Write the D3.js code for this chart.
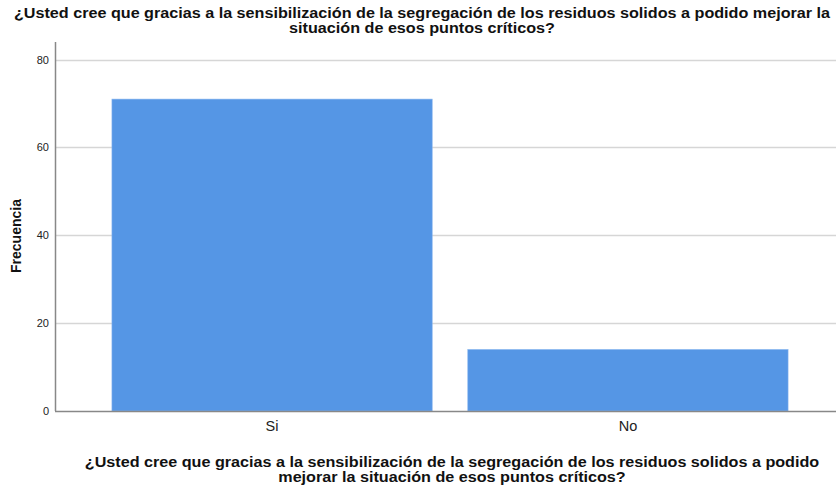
<!DOCTYPE html>
<html>
<head>
<meta charset="utf-8">
<script src="https://cdn.jsdelivr.net/npm/d3@7"></script>
<style>
  body { margin: 0; background: #fff; }
  svg { font-family: "Liberation Sans", Arial, sans-serif; }
</style>
</head>
<body>
<div id="chart"></div>
<script>
const categories = ["Si", "No"];
const frecuencias = [71, 14];
const yTicks = [0, 20, 40, 60, 80];
const titleLines = [
  "¿Usted cree que gracias a la sensibilización de la segregación de los residuos solidos a podido mejorar la",
  "situación de esos puntos críticos?"
];
const xTitleLines = [
  "¿Usted cree que gracias a la sensibilización de la segregación de los residuos solidos a podido",
  "mejorar la situación de esos puntos críticos?"
];
const yTitle = "Frecuencia";

const W = 836, H = 488;
const margin = { top: 42, right: 0, bottom: 77, left: 55 };
const stretch = 1.154; // reference font renders wider than Liberation Sans

const svg = d3.select("#chart").append("svg")
  .attr("width", W)
  .attr("height", H);

const x = d3.scaleBand()
  .domain(categories)
  .range([margin.left, 845])
  .paddingInner(0.1)
  .paddingOuter(0.16);

const y = d3.scaleLinear()
  .domain([0, 84])
  .range([H - margin.bottom, margin.top]);

// grid
svg.append("g")
  .selectAll("line")
  .data(yTicks.filter(d => d > 0))
  .join("line")
    .attr("x1", margin.left)
    .attr("x2", W)
    .attr("y1", d => Math.round(y(d)) + 0.5)
    .attr("y2", d => Math.round(y(d)) + 0.5)
    .attr("stroke", "#d6d6d6")
    .attr("stroke-width", 1.5);

// bars
svg.append("g")
  .selectAll("rect")
  .data(categories.map((c, i) => ({ cat: c, val: frecuencias[i] })))
  .join("rect")
    .attr("x", d => x(d.cat))
    .attr("width", x.bandwidth())
    .attr("y", d => y(d.val))
    .attr("height", d => y(0) - y(d.val))
    .attr("fill", "#5596e5")
    .attr("stroke", "#86b4ee")
    .attr("stroke-width", 0.6);

// y axis
const yAxis = svg.append("g")
  .attr("transform", `translate(${margin.left},0)`)
  .call(d3.axisLeft(y).tickValues(yTicks).tickSize(0).tickPadding(6));
yAxis.select(".domain").remove();
yAxis.selectAll("text").attr("font-size", 11).attr("fill", "#222");
svg.append("line")
  .attr("x1", margin.left + 0.5).attr("x2", margin.left + 0.5)
  .attr("y1", margin.top).attr("y2", y(0))
  .attr("stroke", "#888").attr("stroke-width", 1.5);

// x axis
const xAxis = svg.append("g")
  .attr("transform", `translate(0,${y(0)})`)
  .call(d3.axisBottom(x).tickSize(0).tickPadding(10));
xAxis.select(".domain").remove();
xAxis.selectAll("text").attr("font-size", 14.5).attr("fill", "#222");
svg.append("line")
  .attr("x1", margin.left).attr("x2", W)
  .attr("y1", y(0) + 0.5).attr("y2", y(0) + 0.5)
  .attr("stroke", "#888").attr("stroke-width", 1.5);

// titles
function multiline(lines, cx, y0, lh) {
  const t = svg.append("text")
    .attr("text-anchor", "middle")
    .attr("font-size", 14)
    .attr("font-weight", "bold")
    .attr("fill", "#111");
  t.selectAll("tspan")
    .data(lines)
    .join("tspan")
      .attr("x", cx)
      .attr("y", (d, i) => y0 + i * lh)
      .text(d => d)
      .each(function() {
        const len = this.getComputedTextLength();
        d3.select(this)
          .attr("textLength", len * stretch)
          .attr("lengthAdjust", "spacingAndGlyphs");
      });
}

multiline(titleLines, 422, 18, 14.5);
multiline(xTitleLines, 452, 467, 14.5);

svg.append("text")
  .attr("transform", `translate(21,236) rotate(-90)`)
  .attr("text-anchor", "middle")
  .attr("font-size", 14)
  .attr("font-weight", "bold")
  .attr("fill", "#111")
  .text(yTitle);
</script>
</body>
</html>
